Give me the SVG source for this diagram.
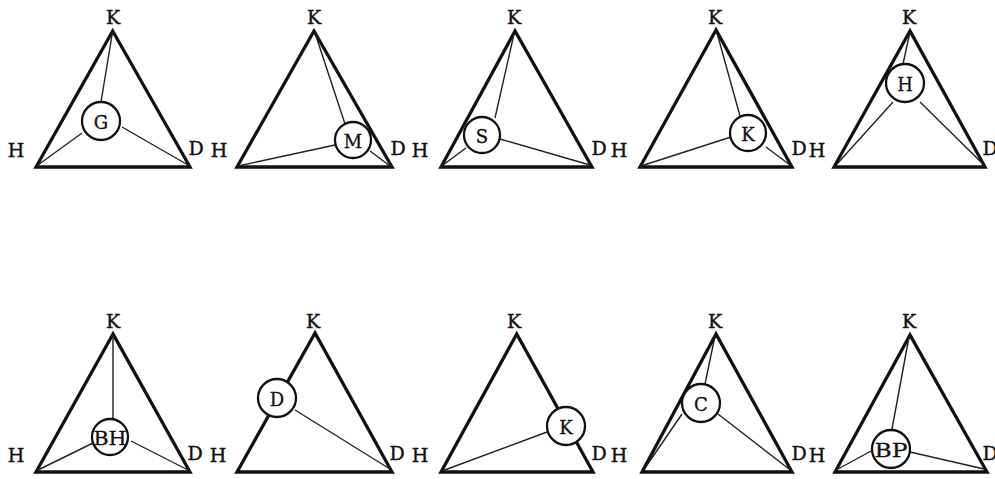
<svg xmlns="http://www.w3.org/2000/svg" width="995" height="479" viewBox="0 0 995 479">
<style>
.tri{fill:none;stroke:#111;stroke-width:3.3;stroke-linejoin:miter}
.ln{stroke:#222;stroke-width:1.4;fill:none}
.nd{fill:#fff;stroke:#111;stroke-width:2.3}
.lb{font-family:"DejaVu Serif","Liberation Serif",serif;font-size:19px;fill:#111;stroke:#111;stroke-width:0.4;text-anchor:middle}
.nt{font-family:"DejaVu Serif","Liberation Serif",serif;font-size:18px;fill:#111;stroke:#111;stroke-width:0.3;text-anchor:middle;dominant-baseline:central}
</style>
<rect width="995" height="479" fill="#fff"/>

<!-- Panel 1 -->
<g id="panel-1">
<path class="tri" d="M112.7,31 L36,167 L190,167 Z"/>
<g id="connectors-1"><path class="ln" d="M112.7,31 L101,102 M82,133 L38,165 M122,127 L188,165"/></g>
<g id="node-G"><circle class="nd" cx="101" cy="121" r="19"/><text class="nt" x="101" y="122">G</text></g>
<text class="lb" x="113" y="24">K</text><text class="lb" x="16" y="157">H</text><text class="lb" x="196" y="155">D</text>
</g>

<!-- Panel 2 -->
<g id="panel-2">
<path class="tri" d="M314,31 L237,167 L392,167 Z"/>
<g id="connectors-2"><path class="ln" d="M315,33 L345,124 M238,166 L335,145 M370,151 L390,166"/></g>
<g id="node-M"><circle class="nd" cx="353" cy="140" r="18"/><text class="nt" x="353" y="141">M</text></g>
<text class="lb" x="314" y="24">K</text><text class="lb" x="219" y="157">H</text><text class="lb" x="398" y="155">D</text>
</g>

<!-- Panel 3 -->
<g id="panel-3">
<path class="tri" d="M515,31 L441,167 L592,167 Z"/>
<g id="connectors-3"><path class="ln" d="M514,34 L495,118 M466,148 L443,165 M500,139 L590,165"/></g>
<g id="node-S"><circle class="nd" cx="482" cy="135" r="18"/><text class="nt" x="482" y="136">S</text></g>
<text class="lb" x="514" y="24">K</text><text class="lb" x="420" y="157">H</text><text class="lb" x="599" y="155">D</text>
</g>

<!-- Panel 4 -->
<g id="panel-4">
<path class="tri" d="M716,30 L640,167 L792,167 Z"/>
<g id="connectors-4"><path class="ln" d="M717,33 L740,116 M641,166 L731,137 M766,147 L790,165"/></g>
<g id="node-K1"><circle class="nd" cx="748" cy="133" r="18"/><text class="nt" x="748" y="134">K</text></g>
<text class="lb" x="715" y="24">K</text><text class="lb" x="619" y="157">H</text><text class="lb" x="799" y="155">D</text>
</g>

<!-- Panel 5 -->
<g id="panel-5">
<path class="tri" d="M910,31 L834,167 L985,167 Z"/>
<g id="connectors-5"><path class="ln" d="M910,32 L903,64 M893,102 L837,164 M920,102 L983,164"/></g>
<g id="node-H"><circle class="nd" cx="905" cy="83" r="19"/><text class="nt" x="905" y="84">H</text></g>
<text class="lb" x="909" y="24">K</text><text class="lb" x="817" y="157">H</text><text class="lb" x="990" y="155">D</text>
</g>

<!-- Panel 6 -->
<g id="panel-6">
<path class="tri" d="M113,334 L36,472 L190,472 Z"/>
<g id="connectors-6"><path class="ln" d="M113,335 L113,420 M93,443 L38,470 M131,441 L188,470"/></g>
<g id="node-BH"><circle class="nd" cx="110" cy="437" r="18"/><text class="nt" x="110" y="438" textLength="33" lengthAdjust="spacingAndGlyphs">BH</text></g>
<text class="lb" x="113" y="328">K</text><text class="lb" x="16" y="462">H</text><text class="lb" x="195" y="460">D</text>
</g>

<!-- Panel 7 -->
<g id="panel-7">
<path class="tri" d="M315,333 L237,472 L392,472 Z"/>
<g id="connectors-7"><path class="ln" d="M295,410 L390,469"/></g>
<g id="node-D"><circle class="nd" cx="277" cy="398" r="19"/><text class="nt" x="277" y="399">D</text></g>
<text class="lb" x="313" y="328">K</text><text class="lb" x="218" y="462">H</text><text class="lb" x="397" y="460">D</text>
</g>

<!-- Panel 8 -->
<g id="panel-8">
<path class="tri" d="M516.7,334 L441,472 L593,472 Z"/>
<g id="connectors-8"><path class="ln" d="M442,471 L547,432"/></g>
<g id="node-K2"><circle class="nd" cx="566" cy="426" r="19"/><text class="nt" x="566" y="427">K</text></g>
<text class="lb" x="514" y="328">K</text><text class="lb" x="420" y="462">H</text><text class="lb" x="599" y="460">D</text>
</g>

<!-- Panel 9 -->
<g id="panel-9">
<path class="tri" d="M716,334 L642,472 L792,472 Z"/>
<g id="connectors-9"><path class="ln" d="M715,336 L705,384 M682,414 L645,468 M718,414 L789,469"/></g>
<g id="node-C"><circle class="nd" cx="701" cy="403" r="19"/><text class="nt" x="701" y="404">C</text></g>
<text class="lb" x="715" y="328">K</text><text class="lb" x="619" y="462">H</text><text class="lb" x="799" y="460">D</text>
</g>

<!-- Panel 10 -->
<g id="panel-10">
<path class="tri" d="M910,335 L835,472 L987,472 Z"/>
<g id="connectors-10"><path class="ln" d="M909,337 L892,429 M873,450 L838,469 M910,452 L984,469"/></g>
<g id="node-BP"><circle class="nd" cx="891" cy="449" r="19"/><text class="nt" x="891" y="450" textLength="33" lengthAdjust="spacingAndGlyphs">BP</text></g>
<text class="lb" x="909" y="328">K</text><text class="lb" x="817" y="462">H</text><text class="lb" x="990" y="460">D</text>
</g>
</svg>
